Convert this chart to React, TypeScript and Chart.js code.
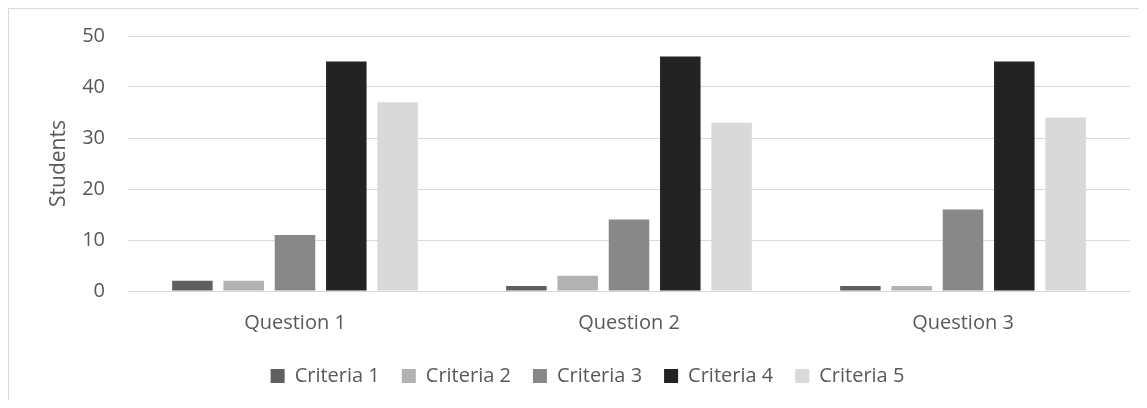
import React, { useEffect, useRef } from "react";
import { Chart, registerables } from "chart.js";

Chart.register(...registerables);

const categories = ["Question 1", "Question 2", "Question 3"];
const seriesNames = ["Criteria 1", "Criteria 2", "Criteria 3", "Criteria 4", "Criteria 5"];
const criteria1 = [2, 1, 1];
const criteria2 = [2, 3, 1];
const criteria3 = [11, 14, 16];
const criteria4 = [45, 46, 45];
const criteria5 = [37, 33, 34];
const seriesColors = ["#5f5f5f", "#b2b2b2", "#888888", "#232323", "#d9d9d9"];
const yTicks = [0, 10, 20, 30, 40, 50];

export default function App() {
  const ref = useRef<HTMLCanvasElement | null>(null);
  useEffect(() => {
    if (!ref.current) return;
    const values = [criteria1, criteria2, criteria3, criteria4, criteria5];
    const font = { family: "'Open Sans', sans-serif", size: 20 };
    const chart = new Chart(ref.current, {
      type: "bar",
      data: {
        labels: categories,
        datasets: seriesNames.map((name, i) => ({
          label: name,
          data: values[i],
          backgroundColor: seriesColors[i],
          borderColor: seriesColors[i],
          borderWidth: 0,
          categoryPercentage: 0.768,
          barPercentage: 0.79,
        })),
      },
      options: {
        animation: false,
        responsive: false,
        maintainAspectRatio: false,
        layout: { padding: { top: 27, right: 9, bottom: 4, left: 36 } },
        plugins: {
          tooltip: { enabled: false },
          legend: {
            position: "bottom",
            labels: {
              color: "#595959",
              font,
              boxWidth: 14,
              boxHeight: 14,
              padding: 22,
            },
          },
        },
        scales: {
          x: {
            grid: { display: false, drawTicks: false },
            border: { color: "#d9d9d9" },
            ticks: { color: "#595959", font, padding: 20 },
            afterFit: (axis: any) => {
              axis.height = 53;
            },
          },
          y: {
            min: 0,
            max: 50,
            afterBuildTicks: (axis: any) => {
              axis.ticks = yTicks.map((v) => ({ value: v }));
            },
            afterFit: (axis: any) => {
              axis.width = 83;
              axis.paddingTop = 0;
              axis.paddingBottom = 0;
            },
            grid: { color: "#d9d9d9", drawTicks: false },
            border: { display: false },
            ticks: { color: "#595959", font, padding: 23 },
            title: {
              display: true,
              text: "Students",
              color: "#595959",
              font: { ...font, size: 21 },
              padding: { top: 1, bottom: 0 },
            },
          },
        },
      },
    });
    return () => chart.destroy();
  }, []);
  return (
    <div
      style={{
        width: 1131,
        height: 392,
        borderTop: "1px solid #d9d9d9",
        borderLeft: "1px solid #d9d9d9",
        boxSizing: "border-box",
      }}
    >
      <canvas ref={ref} width={1130} height={391} style={{ display: "block" }} />
    </div>
  );
}
